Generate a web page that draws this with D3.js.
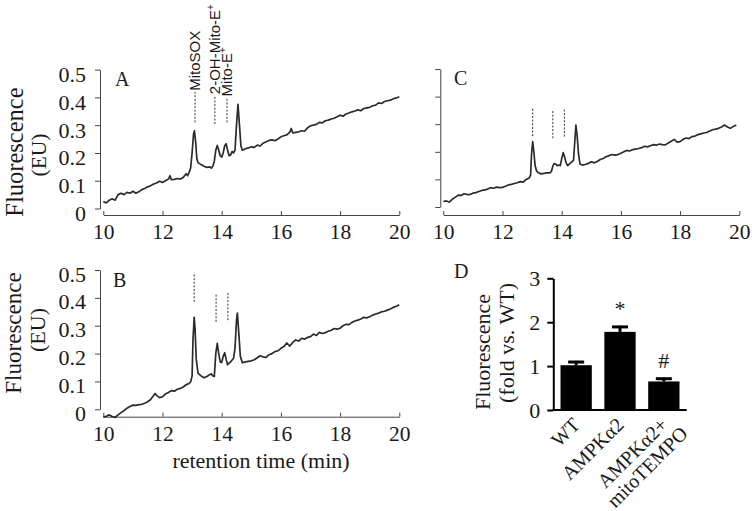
<!DOCTYPE html>
<html><head><meta charset="utf-8">
<script src="https://cdn.jsdelivr.net/npm/d3@7"></script>
<style>body{margin:0;background:#fff}svg{display:block}</style>
</head><body>
<svg id="chart" width="752" height="511"></svg>
<script>
// ---------- data ----------
const timeTicks = [10, 12, 14, 16, 18, 20];
const fluorTicks = [0, 0.1, 0.2, 0.3, 0.4, 0.5];

const traceA_t = [10.0,10.1,10.2,10.3,10.4,10.5,10.6,10.7,10.8,10.9,11.0,11.1,11.2,11.3,11.4,11.5,11.6,11.7,11.8,11.9,12.0,12.1,12.2,12.25,12.3,12.4,12.5,12.6,12.7,12.8,12.85,12.9,12.95,13.0,13.05,13.08,13.12,13.16,13.2,13.3,13.4,13.5,13.6,13.65,13.7,13.75,13.8,13.85,13.9,13.95,14.0,14.05,14.1,14.15,14.2,14.25,14.3,14.35,14.4,14.45,14.5,14.55,14.6,14.65,14.7,14.8,14.9,15.0,15.1,15.2,15.3,15.4,15.5,15.6,15.7,15.8,15.9,16.0,16.1,16.2,16.3,16.35,16.4,16.5,16.6,16.7,16.8,16.9,17.0,17.1,17.2,17.3,17.4,17.5,17.6,17.7,17.8,17.9,18.0,18.1,18.2,18.3,18.4,18.5,18.6,18.7,18.8,18.9,19.0,19.1,19.2,19.3,19.4,19.5,19.6,19.7,19.8,19.9,20.0];
const traceA_v = [0.025,0.02,0.03,0.035,0.03,0.05,0.055,0.05,0.058,0.055,0.062,0.055,0.06,0.068,0.072,0.078,0.082,0.088,0.092,0.098,0.094,0.1,0.106,0.118,0.104,0.105,0.108,0.106,0.112,0.125,0.118,0.13,0.145,0.2,0.27,0.28,0.24,0.18,0.165,0.158,0.152,0.148,0.15,0.145,0.152,0.17,0.21,0.227,0.21,0.19,0.185,0.2,0.225,0.233,0.21,0.19,0.193,0.205,0.2,0.21,0.3,0.375,0.3,0.225,0.21,0.215,0.218,0.222,0.22,0.228,0.225,0.235,0.24,0.245,0.247,0.244,0.25,0.258,0.262,0.265,0.275,0.288,0.272,0.274,0.276,0.28,0.278,0.29,0.298,0.3,0.303,0.31,0.308,0.316,0.318,0.322,0.325,0.33,0.336,0.332,0.34,0.344,0.348,0.351,0.355,0.352,0.36,0.362,0.364,0.37,0.372,0.38,0.378,0.385,0.388,0.39,0.395,0.398,0.402];

const traceB_t = [10.0,10.1,10.2,10.3,10.4,10.5,10.6,10.7,10.8,10.9,11.0,11.1,11.2,11.3,11.4,11.5,11.6,11.7,11.75,11.8,11.9,12.0,12.1,12.2,12.3,12.4,12.5,12.6,12.7,12.8,12.9,12.95,13.0,13.03,13.07,13.1,13.14,13.2,13.3,13.4,13.5,13.6,13.65,13.7,13.75,13.8,13.85,13.9,13.95,14.0,14.05,14.1,14.15,14.2,14.3,14.4,14.45,14.5,14.53,14.58,14.63,14.7,14.8,14.9,15.0,15.1,15.2,15.3,15.4,15.5,15.6,15.7,15.8,15.9,16.0,16.1,16.2,16.3,16.4,16.5,16.6,16.7,16.8,16.9,17.0,17.1,17.2,17.3,17.4,17.5,17.6,17.7,17.8,17.9,18.0,18.1,18.2,18.3,18.4,18.5,18.6,18.7,18.8,18.9,19.0,19.1,19.2,19.3,19.4,19.5,19.6,19.7,19.8,19.9,20.0];
const traceB_v = [-0.028,-0.025,-0.02,-0.026,-0.029,-0.02,-0.012,-0.005,0.004,0.01,0.015,0.014,0.017,0.018,0.022,0.027,0.035,0.05,0.057,0.05,0.042,0.045,0.055,0.06,0.067,0.065,0.072,0.075,0.08,0.088,0.093,0.098,0.12,0.25,0.33,0.29,0.18,0.13,0.12,0.113,0.118,0.125,0.127,0.12,0.118,0.2,0.237,0.2,0.17,0.168,0.19,0.203,0.18,0.16,0.17,0.183,0.22,0.32,0.345,0.27,0.19,0.167,0.17,0.172,0.174,0.178,0.185,0.192,0.188,0.186,0.196,0.2,0.207,0.21,0.219,0.225,0.238,0.227,0.24,0.249,0.245,0.255,0.252,0.258,0.261,0.27,0.265,0.276,0.272,0.275,0.28,0.284,0.29,0.288,0.291,0.3,0.305,0.304,0.312,0.317,0.32,0.324,0.33,0.328,0.332,0.338,0.342,0.345,0.35,0.352,0.356,0.36,0.366,0.37,0.375];

const traceC_t = [10.0,10.1,10.2,10.3,10.4,10.5,10.6,10.7,10.8,10.9,11.0,11.1,11.2,11.3,11.4,11.5,11.6,11.7,11.8,11.9,12.0,12.1,12.2,12.3,12.4,12.5,12.6,12.7,12.8,12.9,12.95,12.98,13.02,13.06,13.1,13.15,13.2,13.3,13.4,13.5,13.6,13.65,13.7,13.75,13.8,13.85,13.9,13.95,14.0,14.05,14.1,14.15,14.2,14.3,14.35,14.4,14.45,14.48,14.52,14.57,14.62,14.7,14.8,14.9,15.0,15.1,15.2,15.3,15.4,15.5,15.6,15.7,15.8,15.9,16.0,16.1,16.2,16.3,16.4,16.5,16.6,16.7,16.8,16.9,17.0,17.1,17.2,17.3,17.4,17.5,17.6,17.7,17.8,17.9,18.0,18.1,18.2,18.3,18.4,18.5,18.6,18.7,18.8,18.9,19.0,19.1,19.2,19.3,19.4,19.5,19.6,19.7,19.8,19.9];
const traceC_v = [0.02,0.022,0.018,0.028,0.035,0.043,0.042,0.048,0.046,0.045,0.05,0.052,0.056,0.06,0.062,0.065,0.07,0.068,0.072,0.07,0.071,0.075,0.08,0.082,0.085,0.088,0.092,0.09,0.1,0.105,0.116,0.19,0.237,0.2,0.15,0.131,0.125,0.12,0.122,0.124,0.124,0.128,0.148,0.158,0.155,0.15,0.152,0.15,0.175,0.197,0.18,0.16,0.15,0.16,0.164,0.17,0.25,0.297,0.26,0.19,0.155,0.152,0.154,0.158,0.164,0.16,0.165,0.172,0.176,0.182,0.186,0.19,0.188,0.19,0.195,0.2,0.205,0.203,0.208,0.21,0.212,0.215,0.22,0.218,0.222,0.226,0.224,0.228,0.226,0.225,0.232,0.238,0.245,0.235,0.237,0.245,0.25,0.248,0.255,0.257,0.262,0.265,0.268,0.27,0.275,0.28,0.282,0.285,0.29,0.297,0.29,0.285,0.292,0.297];

// peak markers (retention time, dashed line from lo to hi fluorescence)
const peakNames = ["MitoSOX", "2-OH-Mito-E", "Mito-E"];
const peakSup = ["", "+", "+"];
const peakA_t = [13.10, 13.77, 14.18], peakA_lo = [0.31, 0.304, 0.31], peakA_hi = [0.42, 0.408, 0.40];
const peakB_t = [13.07, 13.81, 14.21], peakB_lo = [0.386, 0.314, 0.32], peakB_hi = [0.49, 0.416, 0.42];
const peakC_t = [13.02, 13.70, 14.09], peakC_lo = [0.257, 0.249, 0.255], peakC_hi = [0.361, 0.351, 0.355];

// bar panel D
const groups = ["WT", "AMPKα2", "AMPKα2+|mitoTEMPO"];
const foldMeans = [1.02, 1.78, 0.65];
const foldErr = [0.10, 0.14, 0.09];
const sigMarks = ["", "*", "#"];
const foldTicks = [0, 1, 2, 3];

// ---------- drawing ----------
const svg = d3.select("#chart");
const SERIF = "'Liberation Serif','Times New Roman',serif";
const SANS = "'Liberation Sans',Arial,sans-serif";
const INK = "#1a1a1a";

function tracePanel(cfg) {
  const x = d3.scaleLinear().domain([10, 20]).range(cfg.xr);
  const y = d3.scaleLinear().domain([0, 0.5]).range(cfg.yr);
  const g = svg.append("g");

  const ya = d3.axisLeft(y).tickValues(fluorTicks).tickSizeInner(5).tickSizeOuter(0).tickPadding(9)
    .tickFormat(d => cfg.yLabels ? (d === 0 ? "0" : d3.format(".1f")(d)) : "");
  const yg = g.append("g").attr("transform", `translate(${cfg.yAxisX},0)`).call(ya);
  yg.selectAll("text").attr("font-family", SERIF).attr("font-size", 22).attr("fill", INK)
    .attr("transform", `translate(0,${cfg.yLabelShift})`);
  yg.selectAll("line,path").attr("stroke", "#444").attr("stroke-width", 1);

  const xa = d3.axisBottom(x).tickValues(timeTicks).tickSizeInner(-4).tickSizeOuter(0).tickPadding(9);
  const xg = g.append("g").attr("transform", `translate(0,${cfg.xAxisY})`).call(xa);
  xg.selectAll("text").attr("font-family", SERIF).attr("font-size", 21.5).attr("fill", INK);
  xg.selectAll("line,path").attr("stroke", "#444").attr("stroke-width", 1);

  const pts = cfg.t.map((t, i) => [t, cfg.v[i]]);
  g.append("path").datum(pts)
    .attr("d", d3.line().x(d => x(d[0])).y(d => y(d[1])))
    .attr("fill", "none").attr("stroke", "#2b2b2b").attr("stroke-width", 1.7)
    .attr("stroke-linejoin", "round");

  cfg.pt.forEach((t, i) => {
    g.append("line")
      .attr("x1", x(t)).attr("x2", x(t)).attr("y1", y(cfg.plo[i])).attr("y2", y(cfg.phi[i]))
      .attr("stroke", "#333").attr("stroke-width", 1).attr("stroke-dasharray", "2,1.6");
    if (cfg.peakLabels) {
      const tx = g.append("text")
        .attr("transform", `translate(${x(t) + 5},${y(cfg.phi[i]) - 1}) rotate(-90)`)
        .attr("font-family", SANS).attr("font-size", 15).attr("fill", INK);
      tx.append("tspan").text(peakNames[i]);
      if (peakSup[i]) tx.append("tspan").attr("font-size", 10).attr("dy", -6).text(peakSup[i]);
    }
  });

  g.append("text").attr("x", cfg.letterPos[0]).attr("y", cfg.letterPos[1])
    .attr("font-family", SERIF).attr("font-size", 20).attr("fill", INK).text(cfg.letter);

  if (cfg.yTitle) {
    const T = cfg.yTitle;
    g.append("text").attr("transform", `translate(${T.x1},${T.c1}) rotate(-90)`)
      .attr("text-anchor", "middle").attr("font-family", SERIF).attr("font-size", T.s1).attr("fill", INK)
      .text("Fluorescence");
    g.append("text").attr("transform", `translate(${T.x2},${T.c2}) rotate(-90)`)
      .attr("text-anchor", "middle").attr("font-family", SERIF).attr("font-size", T.s2).attr("fill", INK)
      .text("(EU)");
  }
  return { x, y, g };
}

tracePanel({ t: traceA_t, v: traceA_v, pt: peakA_t, plo: peakA_lo, phi: peakA_hi,
  xr: [103.3, 399.3], yr: [208.5, 69.6], xAxisY: 215, yAxisX: 100, yLabels: true, yLabelShift: 5,
  letter: "A", letterPos: [115, 86], peakLabels: true,
  yTitle: { x1: 23, c1: 152, s1: 24.5, x2: 46, c2: 155, s2: 21.5 } });
tracePanel({ t: traceC_t, v: traceC_v, pt: peakC_t, plo: peakC_lo, phi: peakC_hi,
  xr: [443.3, 739.3], yr: [207, 69], xAxisY: 215, yAxisX: 440.3, yLabels: false, yLabelShift: 0,
  letter: "C", letterPos: [454, 85], peakLabels: false, yTitle: null });
tracePanel({ t: traceB_t, v: traceB_v, pt: peakB_t, plo: peakB_lo, phi: peakB_hi,
  xr: [103.3, 399.3], yr: [409.3, 270], xAxisY: 416.7, yAxisX: 100, yLabels: true, yLabelShift: 4,
  letter: "B", letterPos: [113, 286.5], peakLabels: false,
  yTitle: { x1: 21, c1: 333, s1: 23, x2: 45, c2: 330, s2: 22 } });

svg.append("text").attr("x", 261).attr("y", 468).attr("text-anchor", "middle")
  .attr("font-family", SERIF).attr("font-size", 22).attr("fill", INK).text("retention time (min)");

// ---------- panel D ----------
const xb = d3.scaleBand().domain(groups).range([553.3, 686.7]).paddingInner(0.286).paddingOuter(0.164);
const yb = d3.scaleLinear().domain([0, 3]).range([410, 278.3]);
const gd = svg.append("g");

gd.selectAll("rect.bar").data(groups).join("rect").attr("class", "bar")
  .attr("x", d => xb(d)).attr("width", xb.bandwidth())
  .attr("y", (d, i) => yb(foldMeans[i])).attr("height", (d, i) => yb(0) - yb(foldMeans[i]))
  .attr("fill", "#000");

groups.forEach((d, i) => {
  const cx = xb(d) + xb.bandwidth() / 2;
  const top = yb(foldMeans[i] + foldErr[i]);
  gd.append("line").attr("x1", cx).attr("x2", cx).attr("y1", yb(foldMeans[i])).attr("y2", top)
    .attr("stroke", "#000").attr("stroke-width", 3);
  gd.append("line").attr("x1", cx - 8).attr("x2", cx + 8).attr("y1", top + 1.2).attr("y2", top + 1.2)
    .attr("stroke", "#000").attr("stroke-width", 3);
  if (sigMarks[i]) {
    gd.append("text").attr("x", cx).attr("y", top - 10).attr("text-anchor", "middle")
      .attr("font-family", SERIF).attr("font-size", 22).attr("fill", INK).text(sigMarks[i]);
  }
  // rotated category label, one text element per line
  d.split("|").forEach((ln, k) => {
    gd.append("text")
      .attr("transform", `translate(${cx + 5},426) rotate(-45) translate(${k * 8},${k * 20.5})`)
      .attr("text-anchor", "end").attr("font-family", SERIF).attr("font-size", 20).attr("fill", INK)
      .text(ln);
  });
});

const yda = d3.axisLeft(yb).tickValues(foldTicks).tickSizeInner(6).tickSizeOuter(0).tickPadding(7).tickFormat(d3.format("d"));
const ydg = gd.append("g").attr("transform", "translate(553.3,0)").call(yda);
ydg.selectAll("text").attr("font-family", SERIF).attr("font-size", 22).attr("fill", INK);
ydg.selectAll("line,path").attr("stroke", "#000").attr("stroke-width", 2);
gd.append("line").attr("x1", 552.3).attr("x2", 686.7).attr("y1", yb(0)).attr("y2", yb(0))
  .attr("stroke", "#000").attr("stroke-width", 2);

gd.append("text").attr("x", 454).attr("y", 278).attr("font-family", SERIF).attr("font-size", 20)
  .attr("fill", INK).text("D");
gd.append("text").attr("transform", "translate(490,352) rotate(-90)").attr("text-anchor", "middle")
  .attr("font-family", SERIF).attr("font-size", 22).attr("fill", INK).text("Fluorescence");
gd.append("text").attr("transform", "translate(514,343) rotate(-90)").attr("text-anchor", "middle")
  .attr("font-family", SERIF).attr("font-size", 22).attr("fill", INK).text("(fold vs. WT)");
</script>
</body></html>
